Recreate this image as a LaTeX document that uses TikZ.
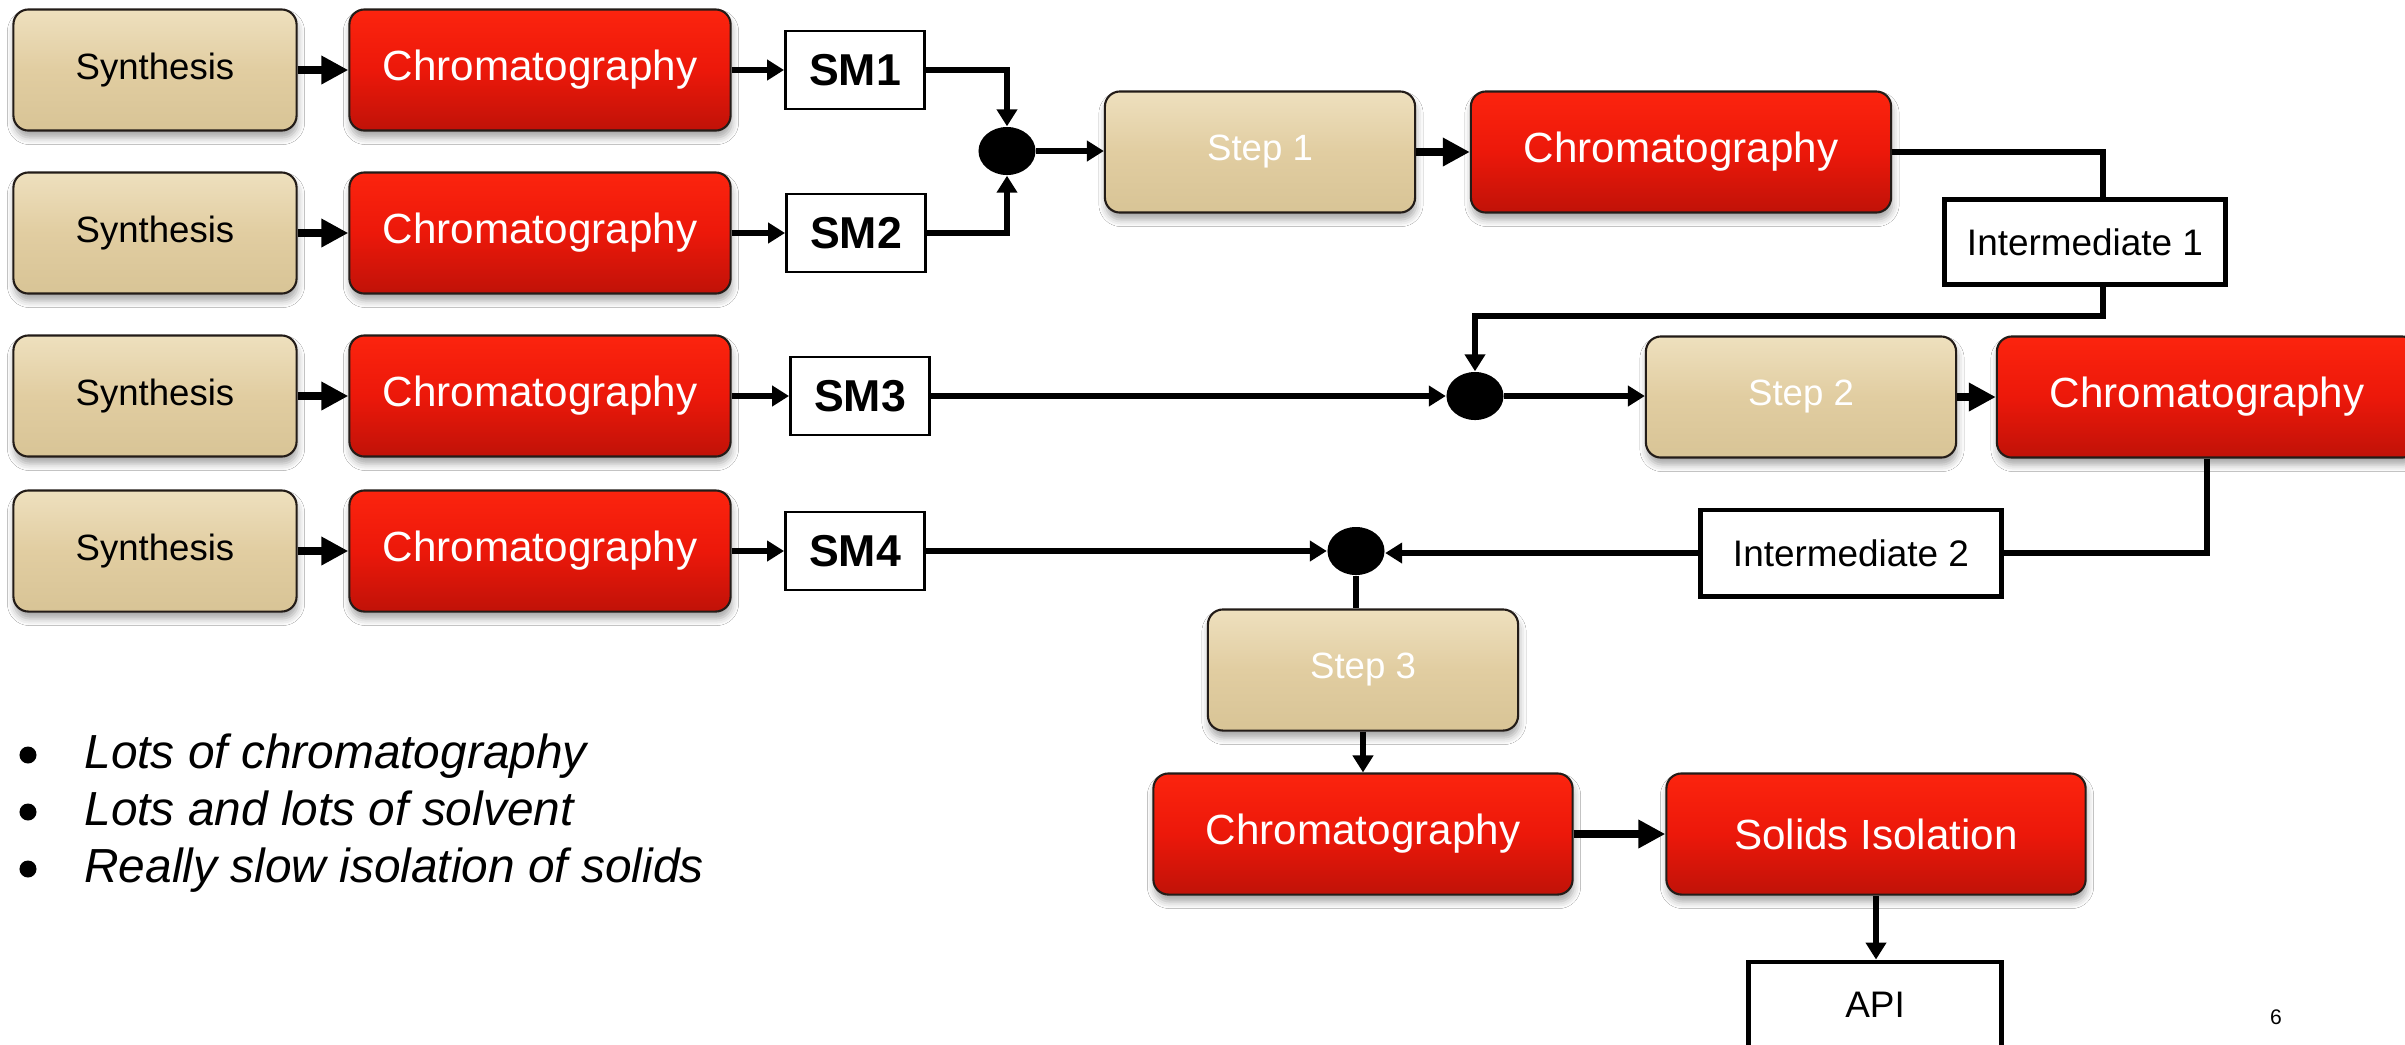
\documentclass[tikz,border=0pt]{standalone}
\usepackage{fontspec}
\setmainfont{Liberation Sans}
\usetikzlibrary{arrows.meta,shapes.geometric,shadows.blur}

\definecolor{tantop}{RGB}{238,224,190}
\definecolor{tanmid}{RGB}{225,205,161}
\definecolor{tanbot}{RGB}{216,196,150}
\definecolor{redtop}{RGB}{252,36,14}
\definecolor{redmid}{RGB}{236,24,10}
\definecolor{redbot}{RGB}{192,18,8}
\definecolor{boxline}{RGB}{35,28,24}

\tikzset{
  proc/.style={rounded corners=0.15cm, draw=boxline, line width=0.6pt,
    minimum height=1.21cm, inner sep=0pt,
    blur shadow={shadow xshift=0.01cm, shadow yshift=-0.07cm,
      shadow blur radius=0.07cm, shadow opacity=35}},
  tanbox/.style={proc, top color=tantop, bottom color=tanbot, middle color=tanmid},
  redbox/.style={proc, top color=redtop, bottom color=redbot, middle color=redmid,
    text=white, font=\fontsize{12}{14}\selectfont},
  synbox/.style={tanbox, minimum width=2.83cm, font=\fontsize{10.4}{12}\selectfont},
  stepbox/.style={tanbox, minimum width=3.1cm, text=white,
    font=\fontsize{10.4}{12}\selectfont},
  smbox/.style={draw, line width=0.8pt, fill=white, minimum width=1.39cm,
    minimum height=0.78cm, inner sep=0pt, font=\bfseries\fontsize{12.7}{15}\selectfont},
  midbox/.style={draw, line width=1.4pt, fill=white, minimum height=0.86cm,
    inner sep=0pt, font=\fontsize{10.5}{12}\selectfont},
  junction/.style={ellipse, fill=black, minimum width=0.57cm, minimum height=0.48cm,
    inner sep=0pt},
  wire/.style={line width=1.7pt},
  thinarrow/.style={line width=1.7pt, -{Triangle[length=0.17cm,width=0.2cm]}},
  fatarrow/.style={line width=2.4pt, -{Triangle[length=0.27cm,width=0.27cm]}},
  bullettext/.style={anchor=base west, font=\itshape\fontsize{13.6}{16}\selectfont},
  bulletdot/.style={circle, fill=black, minimum size=0.17cm, inner sep=0pt}
}

\begin{document}
\begin{tikzpicture}[x=0.01cm, y=-0.01cm]
  \path[use as bounding box, fill=white] (0,0) rectangle (2405,1044);

  % four feed lines: synthesis, purification, starting material
  \node[synbox] (syn1) at (155,70) {Synthesis};
  \node[synbox] (syn2) at (155,233) {Synthesis};
  \node[synbox] (syn3) at (155,396) {Synthesis};
  \node[synbox] (syn4) at (155,551) {Synthesis};

  \node[redbox, minimum width=3.81cm] (chr1) at (540,70) {Chromatography};
  \node[redbox, minimum width=3.81cm] (chr2) at (540,233) {Chromatography};
  \node[redbox, minimum width=3.81cm] (chr3) at (540,396) {Chromatography};
  \node[redbox, minimum width=3.81cm] (chr4) at (540,551) {Chromatography};

  \node[smbox] (sm1) at (855,70) {SM1};
  \node[smbox] (sm2) at (856,233) {SM2};
  \node[smbox] (sm3) at (860,396) {SM3};
  \node[smbox] (sm4) at (855,551) {SM4};

  % mixing points
  \node[junction] (j1) at (1007,151) {};
  \node[junction] (j2) at (1475,396) {};
  \node[junction] (j3) at (1356,551) {};

  % main route
  \node[stepbox] (step1) at (1260,152) {Step 1};
  \node[redbox, minimum width=4.2cm] (chrA) at (1681,152) {Chromatography};
  \node[midbox, minimum width=2.8cm, minimum height=0.85cm] (int1) at (2085,242) {Intermediate 1};

  \node[stepbox] (step2) at (1801,397) {Step 2};
  \node[redbox, minimum width=4.2cm] (chrB) at (2207,397) {Chromatography};
  \node[midbox, minimum width=3.0cm] (int2) at (1851,553) {Intermediate 2};

  \node[stepbox] (step3) at (1363,670) {Step 3};
  \node[redbox, minimum width=4.19cm] (chrC) at (1363,834) {Chromatography};
  \node[redbox, minimum width=4.19cm] (sol) at (1876,834) {Solids Isolation};
  \node[midbox, minimum width=2.52cm] (api) at (1875,1005) {API};

  % feed connectors
  \foreach \i in {1,...,4} {
    \draw[fatarrow] (syn\i.east) -- (syn\i.east -| chr\i.west);
    \draw[thinarrow] (chr\i.east) -- (chr\i.east -| sm\i.west);
  }
  \draw[thinarrow] (sm1.east) -| (j1.north);
  \draw[thinarrow] (sm2.east) -| (j1.south);
  \draw[thinarrow] (sm3.east) -- (sm3.east -| j2.west);
  \draw[thinarrow] (sm4.east) -- (sm4.east -| j3.west);

  % route connectors
  \draw[thinarrow] (j1.east) -- (j1.east -| step1.west);
  \draw[fatarrow] (step1.east) -- (step1.east -| chrA.west);
  \draw[wire] (chrA.east) -| ([xshift=0.18cm]int1.north);
  \draw[thinarrow] ([xshift=0.18cm]int1.south) -- ++(0,29) -| (j2.north);
  \draw[thinarrow] (j2.east) -- (j2.east -| step2.west);
  \draw[fatarrow] (step2.east) -- (step2.east -| chrB.west);
  \draw[wire] (chrB.south) |- (int2.east);
  \draw[thinarrow] (int2.west) -- (int2.west -| j3.east);
  \draw[wire] (j3.south) -- (j3.south |- step3.north);
  \draw[thinarrow] (step3.south) -- (step3.south |- chrC.north);
  \draw[fatarrow] (chrC.east) -- (chrC.east -| sol.west);
  \draw[thinarrow] (sol.south) -- (sol.south |- api.north);

  % remarks
  \node[bulletdot] (d1) at (28,755) {};
  \node[bulletdot] (d2) at (28,812) {};
  \node[bulletdot] (d3) at (28,869) {};
  \node[bullettext] (b1) at (72,768) {Lots of chromatography};
  \node[bullettext] (b2) at (72,825) {Lots and lots of solvent};
  \node[bullettext] (b3) at (72,882) {Really slow isolation of solids};

  \node[font=\fontsize{6}{7}\selectfont] (pg) at (2276,1017) {6};
\end{tikzpicture}
\end{document}
